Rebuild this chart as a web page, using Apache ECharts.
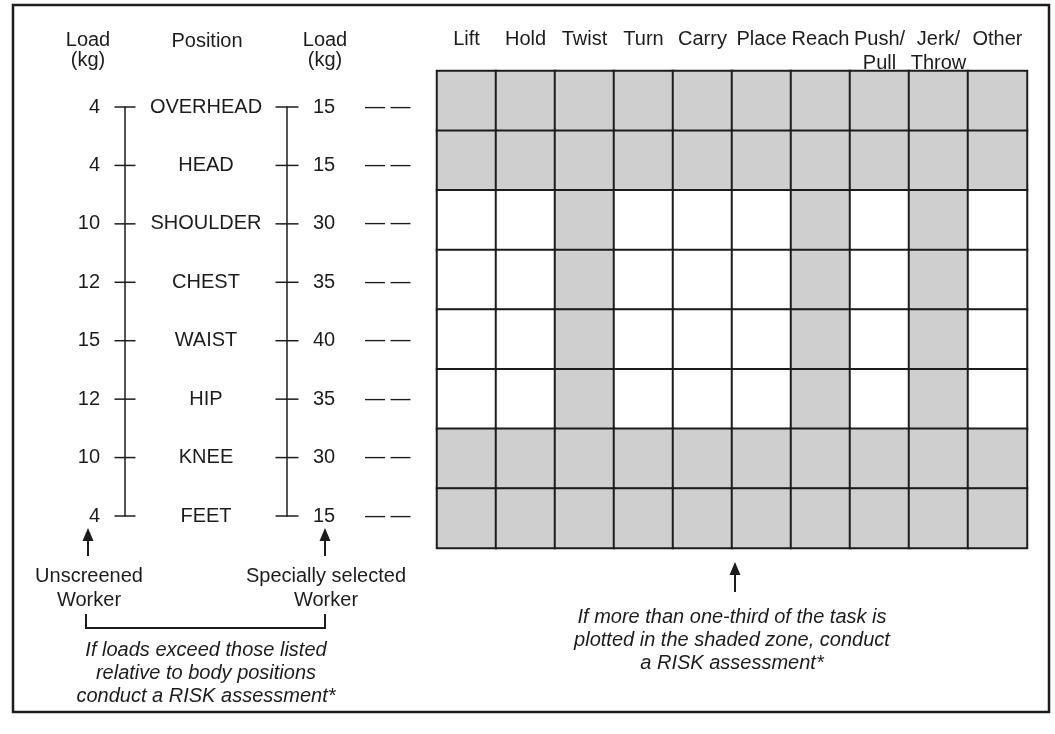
<!DOCTYPE html>
<html>
<head>
<meta charset="utf-8">
<title>Load / position risk screen</title>
<script src="https://cdn.jsdelivr.net/npm/echarts@6/dist/echarts.min.js"></script>
<style>
  html, body { margin: 0; padding: 0; background: #fff; }
  #chart { width: 1055px; height: 734px; }
</style>
</head>
<body>
<div id="chart"></div>
<script>
// body positions, top to bottom
const positions = ['OVERHEAD', 'HEAD', 'SHOULDER', 'CHEST', 'WAIST', 'HIP', 'KNEE', 'FEET'];
// load limits in kg for each position
const loadUnscreened = [4, 4, 10, 12, 15, 12, 10, 4];
const loadSelected = [15, 15, 30, 35, 40, 35, 30, 15];
// task actions across the top of the grid
const actions = ['Lift', 'Hold', 'Twist', 'Turn', 'Carry', 'Place', 'Reach', 'Push/\nPull', 'Jerk/\nThrow', 'Other'];
// 1 = shaded zone, 0 = clear (one row per position)
const shaded = [
  [1, 1, 1, 1, 1, 1, 1, 1, 1, 1],
  [1, 1, 1, 1, 1, 1, 1, 1, 1, 1],
  [0, 0, 1, 0, 0, 0, 1, 0, 1, 0],
  [0, 0, 1, 0, 0, 0, 1, 0, 1, 0],
  [0, 0, 1, 0, 0, 0, 1, 0, 1, 0],
  [0, 0, 1, 0, 0, 0, 1, 0, 1, 0],
  [1, 1, 1, 1, 1, 1, 1, 1, 1, 1],
  [1, 1, 1, 1, 1, 1, 1, 1, 1, 1]
];

const FONT = "'Liberation Sans', Arial, Helvetica, sans-serif";
const INK = '#1c1c1c';

let cells = [];
shaded.forEach((row, r) => {
  row.forEach((v, c) => cells.push([c, r, v]));
});

let chart = echarts.init(document.getElementById('chart'));

// small helpers for the annotation arrows
function arrow(x, tipY, endY) {
  return [
    { type: 'polygon', shape: { points: [[x, tipY], [x - 5.5, tipY + 13], [x + 5.5, tipY + 13]] }, style: { fill: INK } },
    { type: 'line', shape: { x1: x, y1: tipY + 10, x2: x, y2: endY }, style: { stroke: INK, lineWidth: 2 } }
  ];
}
function txt(x, y, text, opts) {
  return {
    type: 'text', x: x, y: y,
    style: Object.assign({
      text: text, fill: INK, fontSize: 20, fontFamily: FONT,
      align: 'center', verticalAlign: 'top', lineHeight: 22
    }, opts || {})
  };
}

let option = {
  backgroundColor: '#fff',
  animation: false,
  grid: [
    // left: the two load scales
    { left: 125, top: 107, width: 162, height: 409 },
    // right: the action / position matrix
    { left: 437, top: 71, width: 590, height: 477 }
  ],
  xAxis: [
    { gridIndex: 0, type: 'value', min: 0, max: 1, show: false },
    {
      gridIndex: 1, type: 'category', data: actions, position: 'top',
      axisLine: { show: false }, axisTick: { show: false }, splitLine: { show: false },
      axisLabel: {
        interval: 0, color: INK, fontSize: 20, fontFamily: FONT,
        lineHeight: 24, verticalAlign: 'top', margin: 44
      }
    }
  ],
  yAxis: [
    {
      gridIndex: 0, type: 'category', data: positions, inverse: true, boundaryGap: false,
      position: 'left',
      axisLine: { show: true, lineStyle: { color: INK, width: 1.5 } },
      axisTick: { show: false }, splitLine: { show: false },
      axisLabel: {
        margin: 25, color: INK, fontSize: 20, fontFamily: FONT,
        formatter: (v, i) => String(loadUnscreened[i])
      }
    },
    {
      gridIndex: 0, type: 'category', data: positions, inverse: true, boundaryGap: false,
      position: 'right',
      axisLine: { show: true, lineStyle: { color: INK, width: 1.5 } },
      axisTick: { show: false }, splitLine: { show: false },
      axisLabel: {
        margin: 26, color: INK, fontSize: 20, fontFamily: FONT,
        formatter: (v, i) => '{n|' + loadSelected[i] + '}{d|\u2014 \u2014}',
        rich: {
          n: { width: 52, align: 'left', fontSize: 20, fontFamily: FONT, color: INK },
          d: { fontSize: 20, fontFamily: FONT, color: INK }
        }
      }
    },
    { gridIndex: 1, type: 'category', data: positions, inverse: true, show: false }
  ],
  visualMap: {
    type: 'piecewise', show: false, seriesIndex: 3, dimension: 2,
    pieces: [
      { value: 0, color: '#ffffff' },
      { value: 1, color: '#cfcfcf' }
    ]
  },
  series: [
    {
      name: 'unscreened ticks', type: 'scatter', xAxisIndex: 0, yAxisIndex: 0,
      symbol: 'rect', symbolSize: [21, 1.5], itemStyle: { color: INK, opacity: 1 },
      data: positions.map((p, i) => [0, i])
    },
    {
      name: 'selected ticks', type: 'scatter', xAxisIndex: 0, yAxisIndex: 0,
      symbol: 'rect', symbolSize: [23, 1.5], itemStyle: { color: INK, opacity: 1 },
      data: positions.map((p, i) => [1, i])
    },
    {
      name: 'position names', type: 'scatter', xAxisIndex: 0, yAxisIndex: 0,
      symbolSize: 0.5, itemStyle: { color: '#fff', opacity: 1 },
      label: {
        show: true, position: 'inside', color: INK, opacity: 1, fontSize: 20, fontFamily: FONT,
        formatter: (p) => positions[p.data[1]]
      },
      data: positions.map((p, i) => [0.5, i])
    },
    {
      name: 'zones', type: 'heatmap', xAxisIndex: 1, yAxisIndex: 2,
      itemStyle: { borderColor: INK, borderWidth: 2 },
      emphasis: { disabled: true },
      data: cells
    }
  ],
  graphic: [
    // outer frame
    { type: 'rect', shape: { x: 13, y: 5, width: 1036, height: 707 }, style: { fill: 'none', stroke: INK, lineWidth: 2.5 } },
    // column headers of the left scales
    txt(88, 30, 'Load\n(kg)', { lineHeight: 20 }),
    txt(207, 30, 'Position'),
    txt(325, 30, 'Load\n(kg)', { lineHeight: 20 }),
    // worker arrows and notes
    ...arrow(88, 528, 556),
    ...arrow(325, 528, 556),
    txt(89, 564, 'Unscreened\nWorker', { lineHeight: 24 }),
    txt(326, 564, 'Specially selected\nWorker', { lineHeight: 24 }),
    { type: 'polyline', shape: { points: [[86, 614], [86, 628], [325, 628], [325, 614]] }, style: { fill: 'none', stroke: INK, lineWidth: 2 } },
    txt(206, 639, 'If loads exceed those listed\nrelative to body positions\nconduct a RISK assessment*', { fontStyle: 'italic', lineHeight: 23 }),
    // matrix note
    ...arrow(735, 562, 592),
    txt(732, 606, 'If more than one-third of the task is\nplotted in the shaded zone, conduct\na RISK assessment*', { fontStyle: 'italic', lineHeight: 23 })
  ]
};

chart.setOption(option);
</script>
</body>
</html>
